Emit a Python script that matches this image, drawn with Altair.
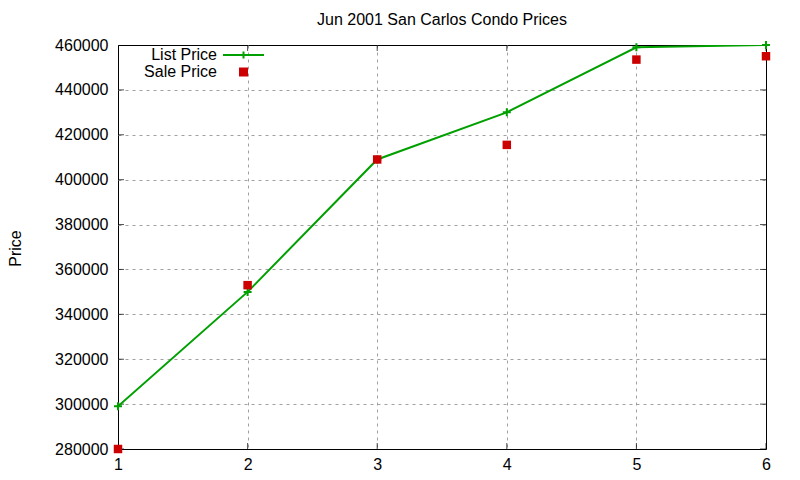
import altair as alt
import pandas as pd

# lot number on x, prices
lot = [1, 2, 3, 4, 5, 6]
list_price = [299000, 350000, 409000, 430000, 459000, 460000]
sale_price = [280000, 353000, 409000, 415500, 453500, 455000]
y_ticks = [280000, 300000, 320000, 340000, 360000, 380000, 400000,
           420000, 440000, 460000]

green = "#00a000"
red = "#cc0000"
font = "Liberation Sans"
fsize = 16

list_dat = pd.DataFrame({"x": lot, "price": list_price, "series": "List Price"})
sale_dat = pd.DataFrame({"x": lot, "price": sale_price, "series": "Sale Price"})

# mirror ticks drawn inward on all four sides (gnuplot style)
ytick_dat = pd.DataFrame({"price": y_ticks * 2,
                          "x": [lot[0]] * len(y_ticks) + [lot[-1]] * len(y_ticks)})
xtick_dat = pd.DataFrame({"x": lot * 2,
                          "price": [y_ticks[0]] * len(lot) + [y_ticks[-1]] * len(lot)})

x_scale = alt.Scale(domain=[1, 6], nice=False, zero=False)
y_scale = alt.Scale(domain=[280000, 460000], nice=False, zero=False)

# no grid line on the border itself, so the black frame stays solid
x_edge = {"condition": {"test": "datum.value == 1 || datum.value == 6", "value": 0},
          "value": 1}
y_edge = {"condition": {"test": "datum.value == 280000 || datum.value == 460000",
                        "value": 0}, "value": 1}

x_enc = alt.X("x:Q", scale=x_scale,
              axis=alt.Axis(values=lot, format="d", title=None, grid=True,
                            gridColor="#a0a0a0", gridDash=[3, 4], gridOpacity=x_edge,
                            domain=False, ticks=False, tickSize=0, labelPadding=7,
                            labelFlush=False, labelFont=font, labelFontSize=fsize,
                            labelColor="black"))
y_enc = alt.Y("price:Q", scale=y_scale,
              axis=alt.Axis(values=y_ticks, format="d", title="Price", grid=True,
                            gridColor="#a0a0a0", gridDash=[3, 4], gridOpacity=y_edge,
                            domain=False, ticks=False, tickSize=0, labelPadding=10,
                            labelFont=font, labelFontSize=fsize, labelColor="black",
                            titleFont=font, titleFontSize=fsize, titleFontWeight="normal",
                            titleColor="black", titleAngle=270, titleX=-103,
                            titleY=203, titleAlign="center", titleBaseline="middle"))

# key samples sit to the right of the (right-aligned) labels, gnuplot style
key_common = dict(title=None, orient="none", labelAlign="right", labelOffset=0,
                  labelFont=font, labelFontSize=fsize, labelColor="black",
                  symbolSize=81, padding=0, symbolOpacity=1)
list_legend = alt.Legend(legendX=83, legendY=2,
                         symbolType="M3.11,0H12.22M7.67,-0.78V0.78",
                         symbolStrokeWidth=2, symbolFillColor="transparent",
                         **key_common)
sale_legend = alt.Legend(legendX=83, legendY=19,
                         symbolType="M6.67,-1H8.67V1H6.67Z",
                         symbolStrokeWidth=0, **key_common)

list_color = alt.Color("series:N", scale=alt.Scale(domain=["List Price"], range=[green]),
                       legend=list_legend)
sale_fill = alt.Fill("series:N", scale=alt.Scale(domain=["Sale Price"], range=[red]),
                     legend=sale_legend)

line = (alt.Chart(list_dat)
        .mark_line(strokeWidth=2, clip=True)
        .encode(x=x_enc, y=y_enc, color=list_color))

crosses = (alt.Chart(list_dat)
           .mark_point(shape="M-1,0H1M0,-1V1", size=64, strokeWidth=2,
                       filled=False, opacity=1)
           .encode(x=x_enc, y=y_enc, color=list_color))

squares = (alt.Chart(sale_dat)
           .mark_square(size=72, opacity=1, filled=True, strokeWidth=0)
           .encode(x=x_enc, y=y_enc, fill=sale_fill))

yticks = (alt.Chart(ytick_dat)
          .mark_tick(orient="horizontal", size=12, thickness=1, color="black", clip=True)
          .encode(x=alt.X("x:Q", scale=x_scale), y=alt.Y("price:Q", scale=y_scale)))

xticks = (alt.Chart(xtick_dat)
          .mark_tick(orient="vertical", size=12, thickness=1, color="black", clip=True)
          .encode(x=alt.X("x:Q", scale=x_scale), y=alt.Y("price:Q", scale=y_scale)))

chart = (alt.layer(yticks, xticks, line, crosses, squares)
         .properties(width=648, height=404,
                     title=alt.Title("Jun 2001 San Carlos Condo Prices", font=font,
                                     fontSize=fsize, fontWeight="normal", color="black",
                                     anchor="middle", frame="group",
                                     baseline="alphabetic", offset=-4),
                     autosize=alt.AutoSizeParams(type="none"),
                     padding={"left": 110, "top": 37, "right": 26, "bottom": 23},
                     background="white")
         .configure_view(stroke="black", strokeWidth=1))

chart.save("out.html", embed_options={"renderer": "svg", "actions": False})
